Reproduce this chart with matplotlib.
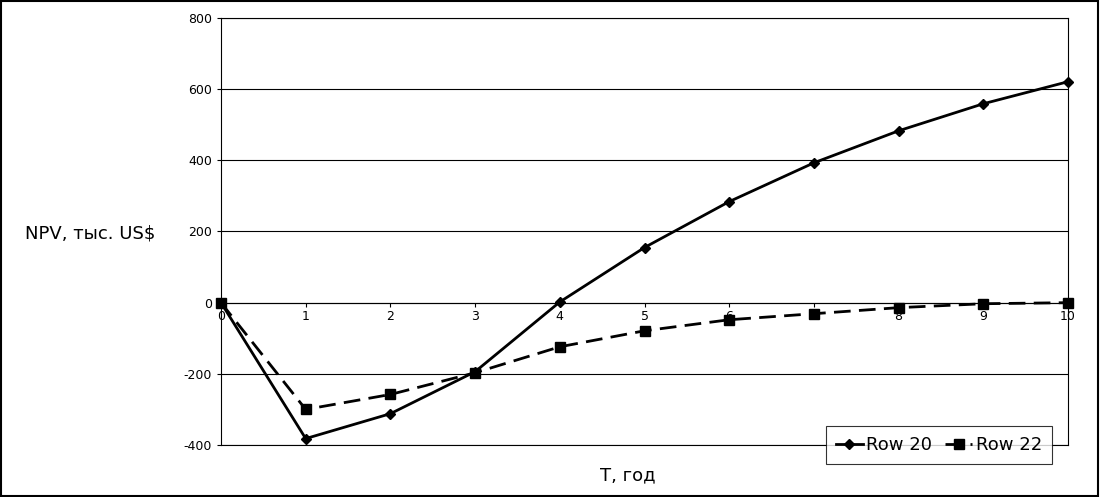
import matplotlib
matplotlib.use('Agg')
import matplotlib.pyplot as plt
from matplotlib.patches import Rectangle

plt.rcParams['axes.unicode_minus'] = False

# Data
years = [0, 1, 2, 3, 4, 5, 6, 7, 8, 9, 10]
row20 = [0, -382, -312, -194, 2, 155, 284, 393, 483, 559, 621]
row22 = [0, -300, -258, -197, -124, -79, -48, -31, -14, -3, 0]
yticks = [-400, -200, 0, 200, 400, 600, 800]

fig = plt.figure(figsize=(11, 4.97), dpi=100)
ax = fig.add_axes([221/1100, 1-445/497, (1068-221)/1100, (445-18)/497])

ax.plot(years, row20, 'k-', marker='D', markersize=5, linewidth=2, label='Row 20', clip_on=False)
ax.plot(years, row22, 'k--', marker='s', markersize=7, linewidth=2, dashes=(6, 3), label='Row 22', clip_on=False)

ax.set_xlim(0, 10)
ax.set_ylim(-400, 800)
ax.set_yticks(yticks)
ax.set_xticks(years)
ax.yaxis.grid(True, color='black', linewidth=0.8)
ax.axhline(yticks[0], color='black', linewidth=0.8, clip_on=False, zorder=0.5)
ax.set_axisbelow(True)

ax.spines['bottom'].set_position(('data', 0))
for s in ax.spines.values():
    s.set_linewidth(0.8)
ax.tick_params(axis='both', labelsize=9, length=3, width=0.8)
ax.tick_params(axis='x', direction='out', pad=2)

fig.text(628/1100, 1-475/497, 'T, год', fontsize=13, ha='center', va='center')
fig.text(90/1100, 1-233/497, 'NPV, тыс. US$', fontsize=13, ha='center', va='center')

leg = ax.legend(loc='lower right', bbox_to_anchor=(1052/1100, 1-464/497), bbox_transform=fig.transFigure,
                frameon=True, fancybox=False, edgecolor='black', fontsize=13, ncol=2,
                handlelength=1.5, handletextpad=0.2, columnspacing=0.7, borderpad=0.55,
                borderaxespad=0)
leg.get_frame().set_linewidth(0.8)
leg.set_zorder(5)

fig.patches.append(Rectangle((0.001, 0.002), 0.997, 0.995, transform=fig.transFigure,
                             fill=False, edgecolor='black', linewidth=1.5))

fig.savefig('out.png', dpi=100)
